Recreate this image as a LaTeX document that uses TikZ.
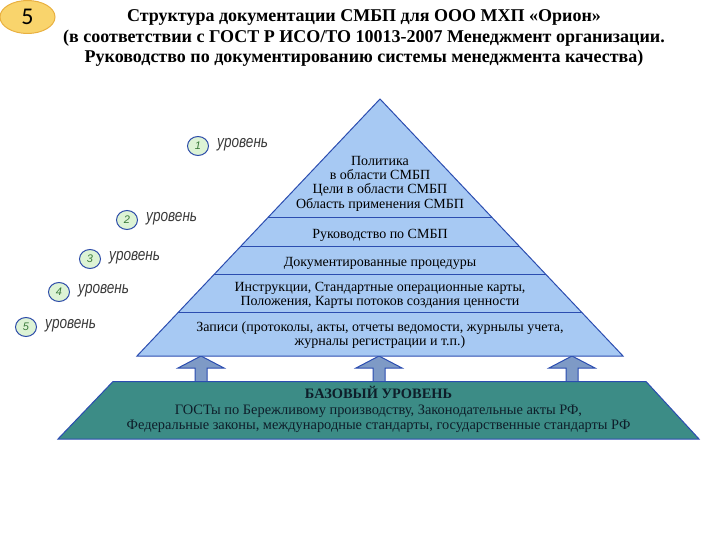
\documentclass[tikz,border=0pt]{standalone}
\usepackage{fontspec}
\setmainfont{Liberation Serif}
\newfontfamily\lvlfont[FakeStretch=0.8]{Liberation Sans}
\newfontfamily\numfont{Liberation Sans}
\newfontfamily\badgefont{Carlito}
\usetikzlibrary{calc,shapes.geometric}
\definecolor{pyrfill}{HTML}{A7C9F3}
\definecolor{pyrline}{HTML}{2B4DB0}
\definecolor{basefill}{HTML}{3C8C86}
\definecolor{basetext}{HTML}{0E1E2A}
\definecolor{arrfill}{HTML}{7E9AC6}
\definecolor{badgefill}{HTML}{F9D46C}
\definecolor{badgeline}{HTML}{E9B040}
\definecolor{lvlfill}{HTML}{DDF3D5}
\definecolor{lvlline}{HTML}{2C4BA8}
\definecolor{lvlnum}{HTML}{3A7A3A}
\definecolor{lvltext}{HTML}{3A3A3A}
\begin{document}
\begin{tikzpicture}[x=1pt,y=-1pt,
  pyrtext/.style={align=center,text=black,font=\fontsize{14}{14.3}\selectfont},
  basetxt/.style={align=center,text=basetext,font=\fontsize{14.4}{15.5}\selectfont},
  titletxt/.style={align=center,text=black,font=\fontsize{18}{20.5}\selectfont\bfseries},
  lvlcirc/.style={ellipse,draw=lvlline,line width=1pt,fill=lvlfill,minimum width=21pt,minimum height=19pt,inner sep=0pt,text=lvlnum,font=\numfont\itshape\fontsize{11}{11}\selectfont},
  lvllab/.style={anchor=west,inner sep=0pt,text=lvltext,font=\lvlfont\itshape\fontsize{17}{17}\selectfont},
  arrowbox/.style={draw=pyrline,line width=1pt,fill=arrfill,line join=miter},
  pyrbox/.style={draw=pyrline,line width=1pt,fill=pyrfill,line join=miter},
  basebox/.style={draw=pyrline,line width=1pt,fill=basefill,line join=miter},
  divline/.style={draw=pyrline,line width=1pt}]
\useasboundingbox (0,0) rectangle (720,540);

% badge
\node[ellipse,draw=badgeline,line width=1pt,fill=badgefill,minimum width=55pt,minimum height=33pt,inner sep=0pt,font=\badgefont\fontsize{24}{24}\selectfont] (badge) at (27.5,17) {5};

% title
\node[titletxt] (title) at (364,38) {Структура документации СМБП для ООО МХП «Орион»\\(в соответствии с ГОСТ Р ИСО/ТО 10013-2007 Менеджмент организации.\\Руководство по документированию системы менеджмента качества)};

% arrows
\foreach \x in {201,379,572}
  \draw[arrowbox] (\x-6,382) -- (\x-6,368) -- (\x-23,368) -- (\x,356) -- (\x+23,368) -- (\x+6,368) -- (\x+6,382) -- cycle;

% pyramid
\coordinate (apex) at (380,99);
\coordinate (bl) at (137,356);
\coordinate (br) at (623,356);
\draw[pyrbox] (apex) -- (br) -- (bl) -- cycle;
\foreach \t/\n in {0.4611/d1,0.5739/d2,0.6848/d3,0.8307/d4}{
  \coordinate (\n l) at ($(apex)!\t!(bl)$);
  \coordinate (\n r) at ($(apex)!\t!(br)$);
  \draw[divline] (\n l) -- (\n r);
}

% base
\draw[basebox] (113,381.5) coordinate (b1) -- (646,381.5) coordinate (b2) -- (699,439) coordinate (b3) -- (58,439) coordinate (b4) -- cycle;

% pyramid texts
\node[pyrtext] (t1) at (380,183.5) {Политика\\в области СМБП\\Цели в области СМБП\\Область применения СМБП};
\node[pyrtext] (t2) at (380,235) {Руководство по СМБП};
\node[pyrtext] (t3) at (380,263) {Документированные процедуры};
\node[pyrtext] (t4) at (380,295.5) {Инструкции, Стандартные операционные карты,\\Положения, Карты потоков создания ценности};
\node[pyrtext] (t5) at (380,335) {Записи (протоколы, акты, отчеты ведомости, журнылы учета,\\журналы регистрации и т.п.)};

% base text
\node[basetxt] (bt) at (378.5,409.5) {\textbf{БАЗОВЫЙ УРОВЕНЬ}\\ГОСТы по Бережливому производству, Законодательные акты РФ,\\Федеральные законы, международные стандарты, государственные стандарты РФ};

% levels
\foreach \n/\cx/\cy in {1/198/146,2/127/220,3/90/259,4/59/292,5/26/327}{
  \node[lvlcirc] (c\n) at (\cx,\cy) {\n};
  \node[lvllab] (l\n) at ($(c\n.east)+(8,-1)$) {уровень};
}
\end{tikzpicture}
\end{document}
